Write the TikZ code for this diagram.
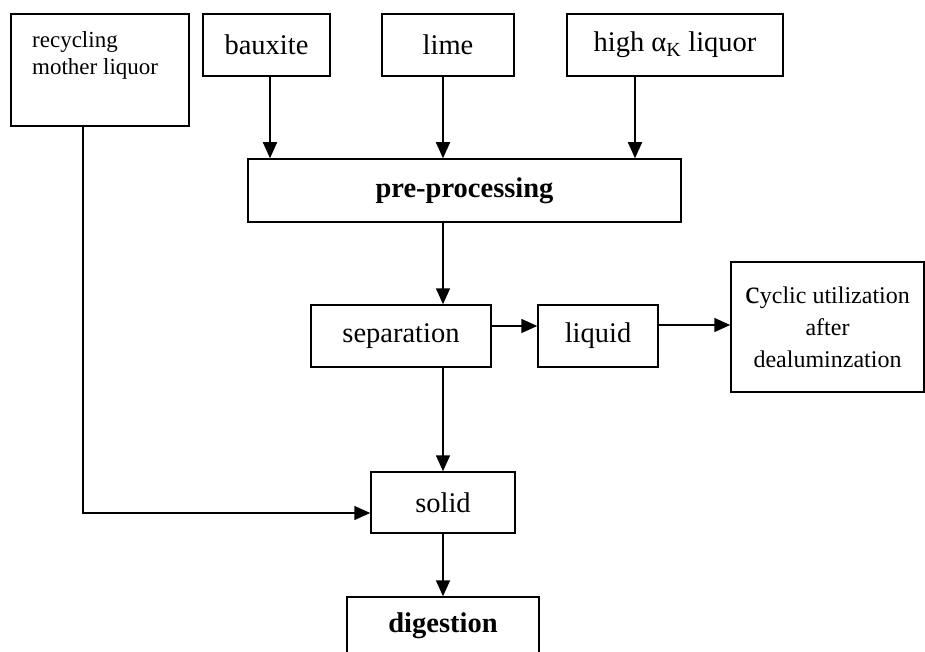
\documentclass[tikz,border=0pt]{standalone}
\usepackage{fontspec}
\setmainfont{Liberation Serif}
\usetikzlibrary{arrows.meta,calc}
\begin{document}
\begin{tikzpicture}[x=1pt,y=-1pt,
  box/.style={draw,line width=1.5pt,inner sep=0pt,font=\fontsize{28.5}{32}\selectfont},
  lbl/.style={inner sep=0pt,align=left,anchor=north west,font=\fontsize{23}{27}\selectfont},
  arr/.style={line width=1.6pt,-{Triangle[length=16pt,width=14pt]}},
  ln/.style={line width=1.5pt}]
\useasboundingbox (0,0) rectangle (925,652);
\clip (0,0) rectangle (925,652);
% boxes
\node[box,minimum width=178pt,minimum height=112pt] (rec) at (100,70) {};
\node[lbl] (rectxt) at (32,31.5) {recycling\\mother liquor};
\node[box,minimum width=127pt,minimum height=62pt] (baux) at (266.5,45) {bauxite};
\node[box,minimum width=132pt,minimum height=62pt] (lime) at (448,45) {lime};
\node[box,minimum width=216pt,minimum height=62pt] (high) at (675,45) {high α\textsubscript{K} liquor};
\node[box,minimum width=433pt,minimum height=63pt,font=\fontsize{28.5}{32}\selectfont\bfseries] (pre) at (464.5,190.5) {pre-processing};
\node[box,minimum width=180pt,minimum height=62pt] (sep) at (401,336) {separation};
\node[box,minimum width=120pt,minimum height=62pt] (liq) at (598,336) {liquid};
\node[box,minimum width=193pt,minimum height=130pt,align=center,font=\fontsize{24}{32}\selectfont] (cyc) at (827.5,327) {{\fontsize{33}{32}\selectfont c}yclic utilization\\after\\dealuminzation};
\node[box,minimum width=144pt,minimum height=61pt] (solid) at (443,502.5) {solid};
\node[box,minimum width=192pt,minimum height=58pt,font=\fontsize{28.5}{32}\selectfont\bfseries] (dig) at (443,626) {digestion};
% connectors
\draw[arr] ([xshift=3.5pt]baux.south) -- ([xshift=3.5pt]baux.south |- pre.north);
\draw[arr] ([xshift=-5pt]lime.south) -- ([xshift=-5pt]lime.south |- pre.north);
\draw[arr] ([xshift=-40pt]high.south) -- ([xshift=-40pt]high.south |- pre.north);
\draw[arr] ([xshift=-21.5pt]pre.south) -- ([xshift=-21.5pt]pre.south |- sep.north);
\draw[arr] ([yshift=10pt]sep.east) -- ([yshift=10pt]sep.east -| liq.west);
\draw[arr] ([yshift=11pt]liq.east) -- ([yshift=11pt]liq.east -| cyc.west);
\draw[arr] (solid.north |- sep.south) -- (solid.north);
\draw[arr] ([xshift=-17pt]rec.south) |- ([yshift=-10.5pt]solid.west);
\draw[arr] (solid.south) -- (dig.north);
\end{tikzpicture}
\end{document}
